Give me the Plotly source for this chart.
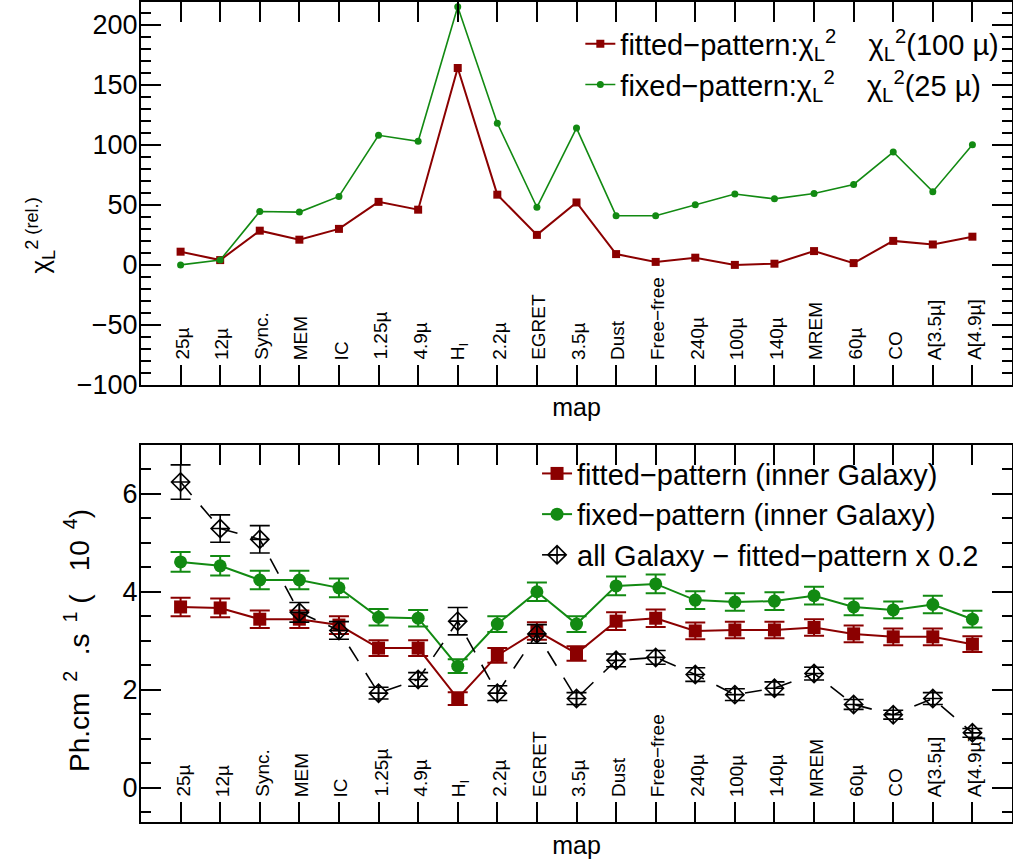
import plotly.graph_objects as go

maps = ["25µ", "12µ", "Sync.", "MEM", "IC", "1.25µ", "4.9µ", "H<sub>I</sub>", "2.2µ", "EGRET",
        "3.5µ", "Dust", "Free−free", "240µ", "100µ", "140µ", "MREM", "60µ", "CO", "A[3.5µ]", "A[4.9µ]"]
xpos = list(range(1, len(maps) + 1))

# top panel: chi2_L (rel.)
chi_fitted = [11, 4, 28.5, 21, 30, 52.5, 46, 164, 58.5, 25, 52, 9, 2.5, 6, 0, 1, 11.5, 1.5, 20, 17, 23.5]
chi_fixed = [0, 4, 44.5, 44, 57, 108, 103, 215, 118, 48, 114, 41, 41, 50, 59, 55, 59.5, 67, 94, 61, 100]

# bottom panel: flux (10^-4 ph cm^-2 s^-1)
flux_fitted = [3.69, 3.67, 3.44, 3.44, 3.32, 2.85, 2.85, 1.82, 2.70, 3.20, 2.74, 3.40, 3.46, 3.20, 3.22,
               3.22, 3.27, 3.14, 3.08, 3.08, 2.93]
flux_fitted_err = [0.19, 0.19, 0.18, 0.18, 0.18, 0.16, 0.16, 0.13, 0.15, 0.18, 0.15, 0.18, 0.18, 0.17,
                   0.17, 0.17, 0.17, 0.17, 0.17, 0.17, 0.16]
flux_fixed = [4.61, 4.53, 4.24, 4.24, 4.08, 3.48, 3.46, 2.48, 3.34, 4.00, 3.34, 4.12, 4.16, 3.83, 3.79,
              3.81, 3.92, 3.69, 3.63, 3.74, 3.44]
flux_fixed_err = [0.2, 0.2, 0.19, 0.19, 0.19, 0.17, 0.17, 0.14, 0.16, 0.19, 0.16, 0.19, 0.19, 0.18,
                  0.18, 0.18, 0.18, 0.17, 0.17, 0.18, 0.17]
flux_all = [6.24, 5.29, 5.07, 3.58, 3.21, 1.93, 2.21, 3.40, 1.93, 3.14, 1.82, 2.60, 2.66, 2.31, 1.90,
            2.03, 2.33, 1.70, 1.49, 1.82, 1.12]
flux_all_err = [0.35, 0.28, 0.28, 0.2, 0.18, 0.12, 0.14, 0.28, 0.15, 0.19, 0.12, 0.13, 0.14, 0.14, 0.12,
                0.13, 0.13, 0.1, 0.09, 0.12, 0.09]

RED = "#8B0000"
GREEN = "#128A12"
FONT = "Liberation Sans, Arial, sans-serif"
NB = "\u00a0"

fig = go.Figure()

fig.add_trace(go.Scatter(x=xpos, y=chi_fitted, mode="lines+markers",
                         name="fitted−pattern:χ<sub>L</sub><sup>2</sup>" + NB * 4 + "χ<sub>L</sub><sup>2</sup>(100 µ)",
                         line=dict(color=RED, width=2), marker=dict(symbol="square", size=8, color=RED),
                         xaxis="x", yaxis="y", legend="legend"))
fig.add_trace(go.Scatter(x=xpos, y=chi_fixed, mode="lines+markers",
                         name="fixed−pattern:χ<sub>L</sub><sup>2</sup>" + NB * 4 + "χ<sub>L</sub><sup>2</sup>(25 µ)",
                         line=dict(color=GREEN, width=1.6), marker=dict(symbol="circle", size=7, color=GREEN),
                         xaxis="x", yaxis="y", legend="legend"))

fig.add_trace(go.Scatter(x=xpos, y=flux_fitted, mode="lines+markers", name="fitted−pattern (inner Galaxy)",
                         line=dict(color=RED, width=2), marker=dict(symbol="square", size=13, color=RED),
                         error_y=dict(type="data", array=flux_fitted_err, color=RED, thickness=2, width=10),
                         xaxis="x2", yaxis="y2", legend="legend2"))
fig.add_trace(go.Scatter(x=xpos, y=flux_fixed, mode="lines+markers", name="fixed−pattern (inner Galaxy)",
                         line=dict(color=GREEN, width=2), marker=dict(symbol="circle", size=13, color=GREEN),
                         error_y=dict(type="data", array=flux_fixed_err, color=GREEN, thickness=2, width=10),
                         xaxis="x2", yaxis="y2", legend="legend2"))
fig.add_trace(go.Scatter(x=xpos, y=flux_all, mode="lines+markers",
                         name="all Galaxy − fitted−pattern x 0.2",
                         line=dict(color="black", width=1.6, dash="17px,14px"),
                         marker=dict(symbol="diamond-cross-open", size=14, color="black", line=dict(width=1.6)),
                         error_y=dict(type="data", array=flux_all_err, color="black", thickness=1.6, width=10),
                         xaxis="x2", yaxis="y2", legend="legend2"))

xcommon = dict(range=[0, 22], tickmode="array", tickvals=xpos, showticklabels=False,
               ticks="inside", ticklen=20, tickwidth=2, tickcolor="black",
               showline=True, linecolor="black", linewidth=2, automargin=False,
               mirror="ticks", showgrid=False, zeroline=False,
               title=dict(text="map", font=dict(family=FONT, size=25, color="black"), standoff=13))
ycommon = dict(ticks="inside", ticklen=20, tickwidth=2, tickcolor="black", showline=True, automargin=False,
               linecolor="black", linewidth=2, mirror="ticks", showgrid=False, zeroline=False,
               ticklabelstandoff=-4,
               tickfont=dict(family=FONT, size=27, color="black"))

fig.update_layout(
    width=1013, height=863,
    margin=dict(l=141, r=1, t=2, b=41),
    plot_bgcolor="white", paper_bgcolor="white",
    font=dict(family=FONT, color="black"),
    xaxis=dict(domain=[0, 1], anchor="y", **xcommon),
    yaxis=dict(domain=[0.533, 1], anchor="x", range=[-100, 219], tickvals=[-100, -50, 0, 50, 100, 150, 200],
               minor=dict(dtick=10, ticks="inside", ticklen=10, tickwidth=2, tickcolor="black"),
               **ycommon),
    xaxis2=dict(domain=[0, 1], anchor="y2", **xcommon),
    yaxis2=dict(domain=[0, 0.46], anchor="x2", range=[-0.7, 7.0], tickvals=[0, 2, 4, 6],
                minor=dict(dtick=0.5, ticks="inside", ticklen=10, tickwidth=2, tickcolor="black"),
                **ycommon),
    legend=dict(x=0.5044, y=0.98, xanchor="left", yanchor="top", bgcolor="rgba(0,0,0,0)",
                font=dict(family=FONT, size=29, color="black"), tracegroupgap=0, itemwidth=30),
    legend2=dict(x=0.4547, y=0.456, xanchor="left", yanchor="top", bgcolor="rgba(0,0,0,0)",
                 font=dict(family=FONT, size=29, color="black"), tracegroupgap=0, itemwidth=30),
    showlegend=True,
)

# category labels drawn inside each panel, just above the inward ticks
for xa, ya in (("x", "y domain"), ("x2", "y2 domain")):
    for xv, lab in zip(xpos, maps):
        fig.add_annotation(text=lab, x=xv, xref=xa, y=0, yref=ya, yanchor="bottom", xanchor="center",
                           yshift=23, xshift=2, textangle=-90, showarrow=False,
                           font=dict(family=FONT, size=19, color="black"))

fig.add_annotation(text="χ<sub>L</sub><sup>2 (rel.)</sup>", xref="paper", yref="y domain", x=0, y=0.39,
                   xanchor="center", yanchor="middle", xshift=-101, textangle=-90, showarrow=False,
                   font=dict(family=FONT, size=26, color="black"))
ylab2 = ("Ph.cm<sup>" + NB * 2 + "2</sup>" + NB * 2 + ".s<sup>" + NB * 2 + "1</sup>" + NB + "(" + NB * 3 +
         "10<sup>" + NB * 2 + "4</sup>)")
fig.add_annotation(text=ylab2, xref="paper", yref="y2 domain", x=0, y=0.48, xanchor="center",
                   yanchor="middle", xshift=-64, textangle=-90, showarrow=False,
                   font=dict(family=FONT, size=28, color="black"))

fig.write_html("out.html", config={"displayModeBar": False},
               post_script="document.body.style.margin='0';")
